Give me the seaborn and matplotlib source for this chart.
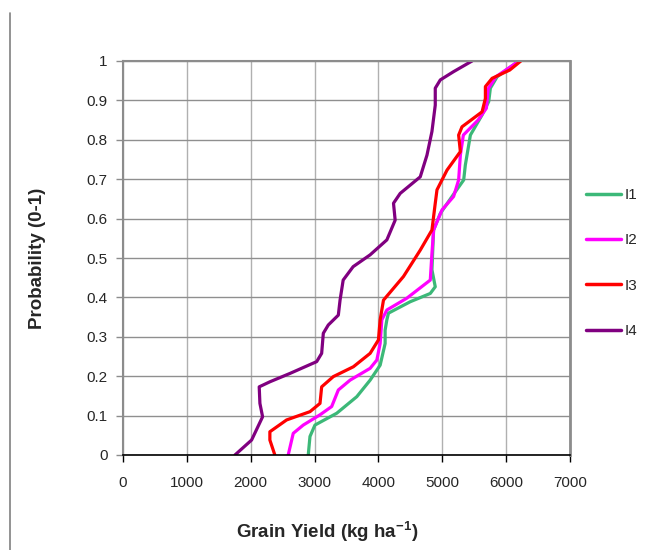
import numpy as np
import pandas as pd
import matplotlib
matplotlib.use("Agg")
import matplotlib.pyplot as plt
from matplotlib.lines import Line2D
import seaborn as sns

# ---- data ----
series_names = ["I1", "I2", "I3", "I4"]
series_colors = ["#3CB878", "#FF00FF", "#FF0000", "#800080"]

i1_prob = [0, 0.047, 0.076, 0.106, 0.148, 0.190, 0.228, 0.283, 0.317, 0.343, 0.36, 0.389,
           0.41, 0.427, 0.47, 0.571, 0.613, 0.656, 0.698, 0.736, 0.812, 0.863, 0.897,
           0.931, 0.960, 1.0]
i1_yield = [2901, 2928, 3006, 3347, 3661, 3870, 4027, 4105, 4105, 4132, 4157, 4498,
            4812, 4890, 4838, 4864, 4969, 5152, 5335, 5361, 5440, 5623, 5727,
            5753, 5859, 6200]

i2_prob = [0, 0.055, 0.076, 0.102, 0.123, 0.165, 0.190, 0.220, 0.241, 0.283, 0.343, 0.368,
           0.398, 0.444, 0.512, 0.571, 0.622, 0.656, 0.698, 0.761, 0.812, 0.85, 0.88,
           0.93, 0.96, 1.0]
i2_yield = [2587, 2666, 2823, 3085, 3268, 3372, 3556, 3870, 3975, 4027, 4053, 4132,
            4445, 4812, 4838, 4864, 4995, 5177, 5256, 5283, 5330, 5560, 5690,
            5720, 5840, 6200]

i3_prob = [0, 0.038, 0.059, 0.089, 0.110, 0.131, 0.173, 0.199, 0.224, 0.258, 0.292, 0.343,
           0.393, 0.453, 0.520, 0.571, 0.639, 0.673, 0.723, 0.770, 0.812, 0.833, 0.871,
           0.905, 0.935, 0.956, 0.977, 1.0]
i3_yield = [2378, 2300, 2300, 2562, 2928, 3085, 3111, 3294, 3608, 3870, 4000, 4027,
            4079, 4392, 4655, 4838, 4890, 4917, 5074, 5283, 5256, 5309, 5623,
            5675, 5675, 5780, 6056, 6230]

i4_prob = [0, 0.038, 0.097, 0.131, 0.173, 0.186, 0.207, 0.237, 0.258, 0.309, 0.330, 0.355,
           0.393, 0.444, 0.478, 0.508, 0.546, 0.596, 0.639, 0.664, 0.706, 0.761, 0.821,
           0.888, 0.931, 0.952, 0.973, 1.0]
i4_yield = [1753, 2014, 2186, 2144, 2133, 2303, 2614, 3033, 3111, 3137, 3215, 3372,
            3399, 3448, 3604, 3870, 4132, 4262, 4236, 4341, 4655, 4760, 4838,
            4890, 4890, 4969, 5177, 5466]

x_ticks = [0, 1000, 2000, 3000, 4000, 5000, 6000, 7000]
y_ticks = [0, 0.1, 0.2, 0.3, 0.4, 0.5, 0.6, 0.7, 0.8, 0.9, 1.0]
y_tick_labels = ["0", "0.1", "0.2", "0.3", "0.4", "0.5", "0.6", "0.7", "0.8", "0.9", "1"]
x_label = r"Grain Yield (kg ha$^{\mathbf{-1}}$)"
y_label = "Probability (0-1)"

frames = []
for name, yy, pp in zip(series_names,
                        [i1_yield, i2_yield, i3_yield, i4_yield],
                        [i1_prob, i2_prob, i3_prob, i4_prob]):
    frames.append(pd.DataFrame({"yield": yy, "prob": pp, "series": name}))
df = pd.concat(frames, ignore_index=True)

# ---- style ----
sns.set_style("white")
plt.rcParams["font.family"] = ["Liberation Sans", "DejaVu Sans"]
plt.rcParams["mathtext.fontset"] = "custom"
plt.rcParams["mathtext.rm"] = "Liberation Sans"
plt.rcParams["mathtext.bf"] = "Liberation Sans:bold"

fig = plt.figure(figsize=(6.48, 5.5), dpi=100)
ax = fig.add_axes([123 / 648, 1 - 455 / 550, (570 - 123) / 648, (455 - 61) / 550])

sns.lineplot(data=df, x="yield", y="prob", hue="series", hue_order=series_names,
             palette=series_colors, sort=False, estimator=None, lw=2.3,
             ax=ax, legend=False, solid_joinstyle="round", solid_capstyle="round")

ax.set_xlim(0, 7000)
ax.set_ylim(0, 1)
ax.set_xticks(x_ticks)
ax.set_xticklabels([str(v) for v in x_ticks])
ax.set_yticks(y_ticks)
ax.set_yticklabels(y_tick_labels)
ax.set_xlabel("")
ax.set_ylabel("")

ax.grid(True, axis="y", color="#8f8f8f", lw=1.0)
ax.grid(True, axis="x", color="#b0b0b0", lw=1.0)
ax.set_axisbelow(True)

for side in ["left", "top", "right"]:
    ax.spines[side].set_visible(True)
    ax.spines[side].set_color("#8c8c8c")
ax.spines["left"].set_linewidth(1.5)
ax.spines["top"].set_linewidth(1.5)
ax.spines["right"].set_linewidth(2.0)
ax.spines["bottom"].set_color("black")
ax.spines["bottom"].set_linewidth(1.2)

ax.tick_params(axis="x", direction="out", length=5, width=1, color="black",
               pad=10, labelsize=11, bottom=True)
ax.tick_params(axis="y", direction="out", length=5, width=1, color="#8c8c8c",
               pad=6, labelsize=11, left=True)

fig.text(38 / 648, 1 - 258 / 550, y_label, rotation=90, ha="center", va="center",
         fontsize=13.5, fontweight="bold")
fig.text(327 / 648, 1 - 532 / 550, x_label, ha="center", va="center",
         fontsize=13.5, fontweight="bold")

handles = [Line2D([0], [0], color=c, lw=2.5) for c in series_colors]
fig.legend(handles, series_names, loc="upper left",
           bbox_to_anchor=(586 / 648, 1 - 188 / 550), bbox_transform=fig.transFigure,
           frameon=False, fontsize=11, handlelength=2.3, handletextpad=0.2,
           labelspacing=2.05, borderpad=0, borderaxespad=0)

# left border line of the cropped page
fig.add_artist(Line2D([10 / 648, 10 / 648], [0, 1 - 13 / 550], color="#808080", lw=1.2,
                      transform=fig.transFigure))

fig.savefig("out.png", dpi=100)
